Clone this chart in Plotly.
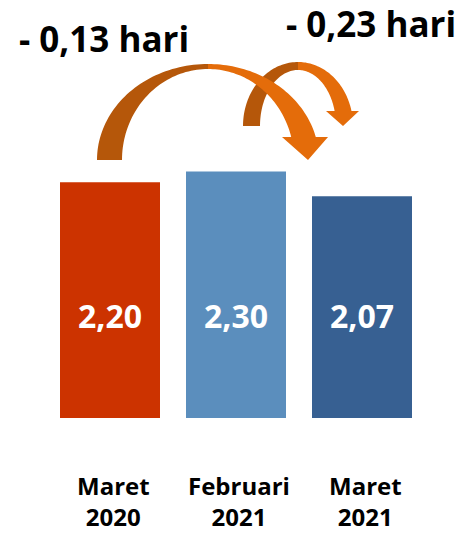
import math
import plotly.graph_objects as go

# ---- data ----
categories = ["Maret<br>2020", "Februari<br>2021", "Maret<br>2021"]
values = [2.20, 2.30, 2.07]
value_labels = ["2,20", "2,30", "2,07"]
bar_colors = ["#CC3300", "#5B8EBD", "#376092"]
change_labels = ["- 0,13 hari", "- 0,23 hari"]

# ---- layout frame (pixels) ----
W, H = 463, 533
ML, MR, MT, MB = 47, 38, 0, 115
Y_MAX = 3.9
PLOT_W = W - ML - MR
PLOT_H = H - MT - MB


def dx(px):
    return (px - ML) / PLOT_W * 3.0 - 0.5


def dy(py):
    return (MT + PLOT_H - py) / PLOT_H * Y_MAX


def arc(cx, cy, rx, ry, t0, t1, n=48):
    pts = []
    for i in range(n + 1):
        t = math.radians(t0 + (t1 - t0) * i / n)
        pts.append((cx + rx * math.cos(t), cy - ry * math.sin(t)))
    return pts


def to_path(pts):
    s = "M " + " L ".join(f"{dx(x):.4f},{dy(y):.4f}" for x, y in pts) + " Z"
    return s


def curved_arrow(cx, cy, rxo, ryo, rxi, ryi, end_dy, head_l, head_r, tip):
    to_ = math.degrees(math.asin(end_dy / ryo))
    ti_ = math.degrees(math.asin(end_dy / ryi))
    back = arc(cx, cy, rxo, ryo, 180, 90) + arc(cx, cy, rxi, ryi, 90, 180)
    base_y = cy - end_dy
    front = (arc(cx, cy, rxo, ryo, 90, to_)
             + [(head_r, base_y), tip, (head_l, base_y)]
             + arc(cx, cy, rxi, ryi, ti_, 90))
    return to_path(back), to_path(front)


DARK_ORANGE = "#B5570A"
ORANGE = "#E46C0A"

shapes = []
# small arrow (behind)
b2, f2 = curved_arrow(298, 126, 55, 64, 38, 56, 15, 326, 359, (343, 126))
# big arrow (front)
b1, f1 = curved_arrow(208, 160, 111, 96, 86, 91, 23, 282, 328, (308, 160))
for p, c in [(b2, DARK_ORANGE), (f2, ORANGE), (b1, DARK_ORANGE), (f1, ORANGE)]:
    shapes.append(dict(type="path", xref="x", yref="y", path=p,
                       fillcolor=c, line=dict(width=0), layer="above"))

fig = go.Figure(go.Bar(
    x=[0, 1, 2], y=values, marker=dict(color=bar_colors, line=dict(width=0)),
    width=100 / 126, hoverinfo="skip",
))

annotations = []
FONT = "Open Sans"
for i, t in enumerate(value_labels):
    annotations.append(dict(x=i, y=dy(315), xref="x", yref="y", text=f"<b>{t}</b>",
                            showarrow=False, xanchor="center", yanchor="middle",
                            font=dict(family=FONT, size=32, color="white")))
for i, t in enumerate(categories):
    annotations.append(dict(x=i, y=0, xref="x", yref="y", text=f"<b>{t}</b>",
                            showarrow=False, xanchor="center", yanchor="middle",
                            yshift=-83, xshift=3, borderpad=0,
                            font=dict(family=FONT, size=24, color="black")))
annotations.append(dict(x=dx(104), y=dy(38), xref="x", yref="y",
                        text=f"<b>{change_labels[0]}</b>", showarrow=False,
                        xanchor="center", yanchor="middle",
                        font=dict(family=FONT, size=35, color="black")))
annotations.append(dict(x=dx(371), y=dy(23), xref="x", yref="y",
                        text=f"<b>{change_labels[1]}</b>", showarrow=False,
                        xanchor="center", yanchor="middle",
                        font=dict(family=FONT, size=35, color="black")))

fig.update_layout(
    width=W, height=H,
    margin=dict(l=ML, r=MR, t=MT, b=MB, pad=0),
    paper_bgcolor="white", plot_bgcolor="white",
    showlegend=False,
    xaxis=dict(range=[-0.5, 2.5], visible=False, fixedrange=True),
    yaxis=dict(range=[0, Y_MAX], visible=False, fixedrange=True),
    shapes=shapes, annotations=annotations,
)

fig.write_html("out.html", config={"displayModeBar": False},
               post_script="document.body.style.margin='0px';"
                           "document.body.style.overflow='hidden';")
